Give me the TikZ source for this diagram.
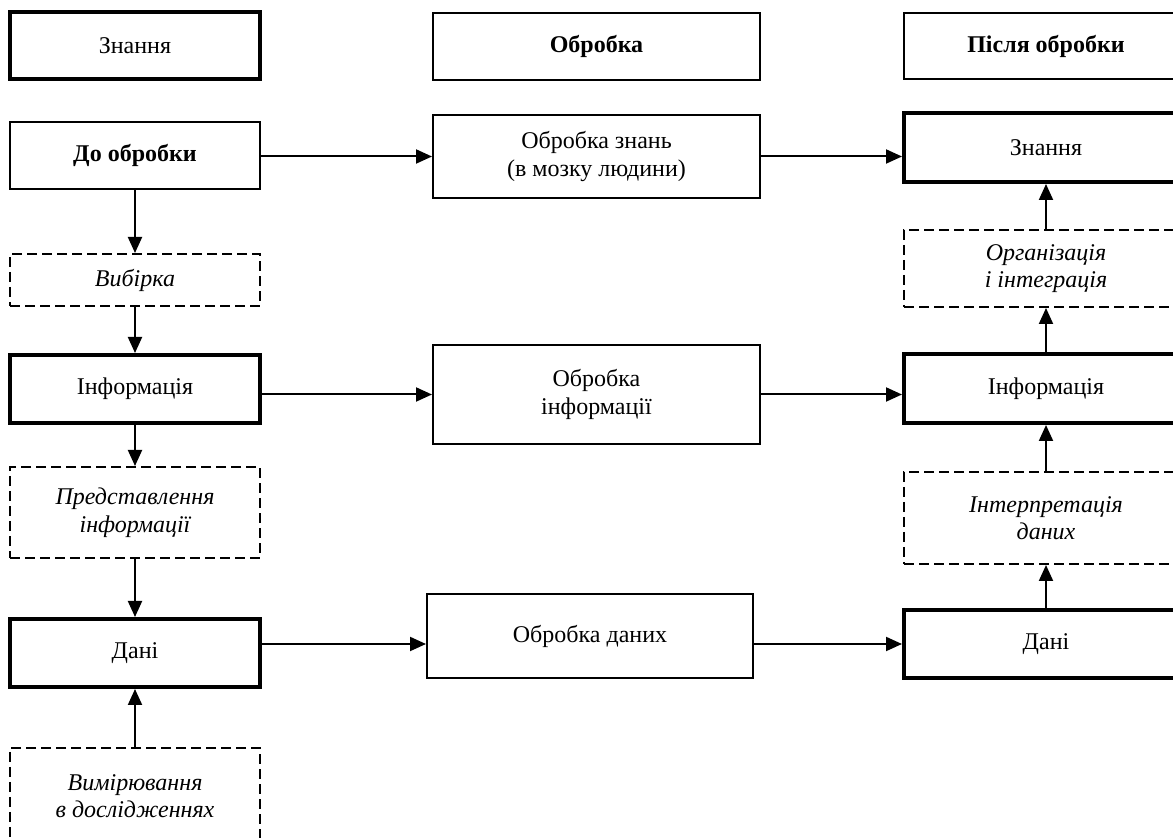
\documentclass[tikz,border=0pt]{standalone}
\usepackage{fontspec}
\setmainfont{Liberation Serif}
\usetikzlibrary{arrows.meta}
\def\px{0.5pt}
\tikzset{
  box/.style={draw, line width=1pt, align=center, inner sep=2pt,
    font=\fontsize{12}{13.8}\selectfont, minimum width=250*\px},
  thickbox/.style={box, line width=2pt},
  dashbox/.style={box, dash pattern=on 5pt off 2.5pt,
    font=\fontsize{12}{13.8}\selectfont\itshape},
  arr/.style={line width=1pt, -{Triangle[length=8pt,width=7pt]}}
}
\begin{document}
\begin{tikzpicture}[x=0.5pt,y=-0.5pt]
  \clip (0,0) rectangle (1173,838);
  \fill[white] (0,0) rectangle (1173,838);
  % left column
  \node[thickbox, minimum height=67*\px] (zh) at (135,45.5) {Знання};
  \node[box, minimum height=67*\px, font=\fontsize{12}{13.8}\selectfont\bfseries] (do) at (135,155.5) {До обробки};
  \node[dashbox, minimum width=250*\px, minimum height=52*\px] (vyb) at (135,280) {Вибірка};
  \node[thickbox, minimum height=68*\px] (il) at (135,389) {Інформація};
  \node[dashbox, minimum height=91*\px] (pred) at (135,512.5) {Представлення\\інформації};
  \node[thickbox, minimum height=68*\px] (dl) at (135,653) {Дані};
  \node[dashbox, minimum height=96*\px] (vym) at (135,796) {Вимірювання\\в дослідженнях};
  % middle column
  \node[box, minimum width=327*\px, minimum height=67*\px, font=\fontsize{12}{13.8}\selectfont\bfseries] (oh) at (596.5,46.5) {Обробка};
  \node[box, minimum width=327*\px, minimum height=83*\px] (ozn) at (596.5,156.5) {Обробка знань\\(в мозку людини)};
  \node[box, minimum width=327*\px, minimum height=99*\px] (oi) at (596.5,394.5) {Обробка\\інформації};
  \node[box, minimum width=326*\px, minimum height=84*\px] (od) at (590,636) {Обробка даних};
  % right column
  \node[box, minimum width=284*\px, minimum height=66*\px, font=\fontsize{12}{13.8}\selectfont\bfseries] (ph) at (1046,46) {Після обробки};
  \node[thickbox, minimum width=284*\px, minimum height=69*\px] (zr) at (1046,147.5) {Знання};
  \node[dashbox, minimum width=284*\px, minimum height=77*\px] (org) at (1046,268.5) {Організація\\і інтеграція};
  \node[thickbox, minimum width=284*\px, minimum height=69*\px] (ir) at (1046,388.5) {Інформація};
  \node[dashbox, minimum width=284*\px, minimum height=92*\px] (int) at (1046,518) {Інтерпретація\\даних};
  \node[thickbox, minimum width=284*\px, minimum height=68*\px] (dr) at (1046,644) {Дані};
  % vertical arrows
  \draw[arr] (do) -- (vyb);
  \draw[arr] (vyb) -- (il);
  \draw[arr] (il) -- (pred);
  \draw[arr] (pred) -- (dl);
  \draw[arr] (vym) -- (dl);
  \draw[arr] (dr) -- (int);
  \draw[arr] (int) -- (ir);
  \draw[arr] (ir) -- (org);
  \draw[arr] (org) -- (zr);
  % horizontal arrows
  \draw[arr] (do.east |- ozn.west) -- (ozn.west);
  \draw[arr] (ozn.east) -- (ozn.east -| zr.west);
  \draw[arr] (il.east |- oi.west) -- (oi.west);
  \draw[arr] (oi.east) -- (oi.east -| ir.west);
  \draw[arr] (dl.east |- dr.west) -- (od.west |- dr.west);
  \draw[arr] (od.east |- dr.west) -- (dr.west);
\end{tikzpicture}
\end{document}
